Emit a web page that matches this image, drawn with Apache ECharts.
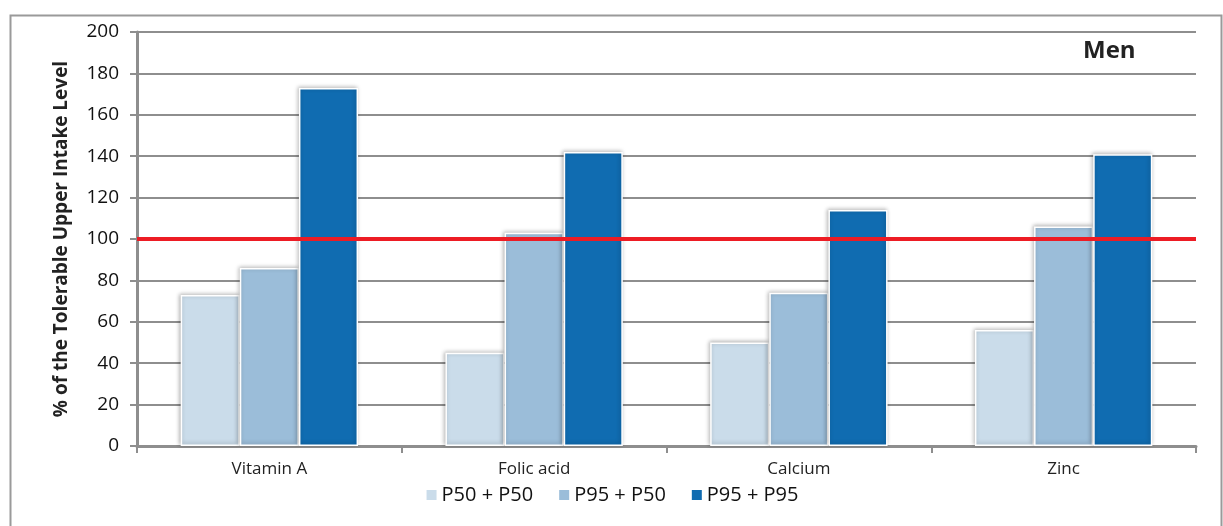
<!DOCTYPE html>
<html>
<head>
<meta charset="utf-8">
<title>Men – % of the Tolerable Upper Intake Level</title>
<script src="https://cdn.jsdelivr.net/npm/echarts@6/dist/echarts.min.js"></script>
<style>
  html, body { margin: 0; padding: 0; background: #ffffff; }
  #chart { width: 1223px; height: 526px; }
</style>
</head>
<body>
<div id="chart"></div>
<script>
// Nutrients on the x axis
const categories = ['Vitamin A', 'Folic acid', 'Calcium', 'Zinc'];

// Intake scenarios, in % of the tolerable upper intake level
const seriesNames = ['P50 + P50', 'P95 + P50', 'P95 + P95'];
const p50p50 = [73, 45, 50, 56];
const p95p50 = [86, 103, 74, 106];
const p95p95 = [173, 142, 114, 141];

// Upper intake level reference
const upperLevel = 100;

// Y-axis range
const yMin = 0;
const yMax = 200;
const yStep = 20;

const colors = ['#cadcea', '#9bbdd9', '#106cb1'];
const FONT = '"Open Sans", "Noto Sans", sans-serif';
const GRID_GRAY = '#8e8e8e';

const chart = echarts.init(document.getElementById('chart'), null, { renderer: 'canvas' });

function barSeries(name, data, idx) {
  return {
    name: name,
    type: 'bar',
    data: data,
    barGap: '0%',
    barCategoryGap: '33%',
    itemStyle: {
      color: colors[idx],
      borderColor: '#ffffff',
      borderWidth: 1.5,
      shadowBlur: 4,
      shadowColor: 'rgba(0,0,0,0.28)',
      shadowOffsetX: -1,
      shadowOffsetY: -1
    },
    emphasis: { disabled: true },
    animation: false
  };
}

const series = [
  barSeries(seriesNames[0], p50p50, 0),
  barSeries(seriesNames[1], p95p50, 1),
  barSeries(seriesNames[2], p95p95, 2)
];

// Red reference line at the upper intake level
series[2].markLine = {
  silent: true,
  symbol: ['none', 'none'],
  label: { show: false },
  lineStyle: { color: '#ed1c24', width: 4, type: 'solid' },
  emphasis: { disabled: true },
  data: [{ yAxis: upperLevel }],
  z: 10
};

const option = {
  backgroundColor: '#ffffff',
  animation: false,
  textStyle: { fontFamily: FONT },
  graphic: [
    {
      type: 'rect',
      left: 8,
      top: 13,
      shape: { width: 1211, height: 540 },
      style: { fill: 'none', stroke: '#9a9a9a', lineWidth: 2 },
      z: -1,
      silent: true
    }
  ],
  title: {
    text: 'Men',
    left: 1078,
    top: 34,
    textStyle: { fontFamily: FONT, fontSize: 24, fontWeight: 'bold', color: '#222222' }
  },
  legend: {
    data: seriesNames,
    left: 'center',
    top: 480,
    itemWidth: 12,
    itemHeight: 12,
    itemGap: 24,
    icon: 'rect',
    textStyle: { fontFamily: FONT, fontSize: 20, color: '#111111', padding: [0, 0, 0, -1] },
    selectedMode: false
  },
  grid: {
    left: 137,
    right: 27,
    top: 32,
    bottom: 80,
    containLabel: false
  },
  xAxis: {
    type: 'category',
    data: categories,
    boundaryGap: true,
    axisLine: { show: true, lineStyle: { color: GRID_GRAY, width: 3 } },
    axisTick: { show: true, length: 7, alignWithLabel: false, lineStyle: { color: GRID_GRAY, width: 2 } },
    axisLabel: { fontFamily: FONT, fontSize: 17, color: '#222222', margin: 15 },
    splitLine: { show: false }
  },
  yAxis: {
    type: 'value',
    min: yMin,
    max: yMax,
    interval: yStep,
    name: '% of the Tolerable Upper Intake Level',
    nameLocation: 'middle',
    nameGap: 66,
    nameTextStyle: { fontFamily: FONT, fontSize: 19, fontWeight: 'bold', color: '#222222' },
    axisLine: { show: true, lineStyle: { color: GRID_GRAY, width: 3 } },
    axisTick: { show: true, inside: false, length: 7, lineStyle: { color: GRID_GRAY, width: 2 } },
    axisLabel: { fontFamily: FONT, fontSize: 19, color: '#111111', margin: 18 },
    splitLine: { show: true, lineStyle: { color: GRID_GRAY, width: 2 } }
  },
  series: series
};

chart.setOption(option);
</script>
</body>
</html>
